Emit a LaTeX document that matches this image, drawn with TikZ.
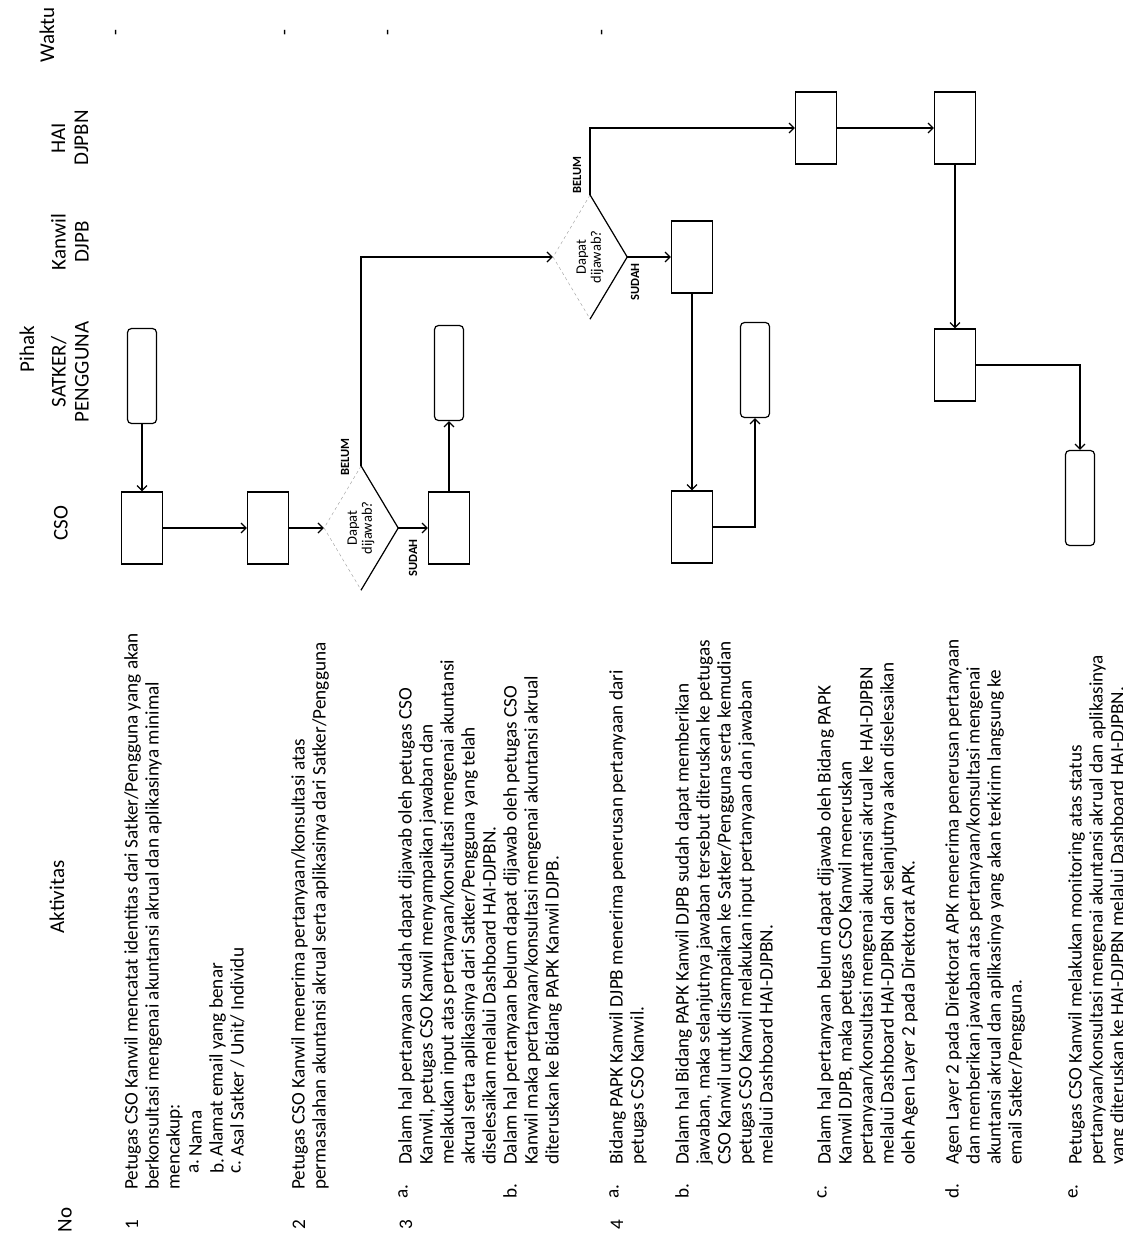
\documentclass[tikz,border=0pt]{standalone}
\usepackage{fontspec}
\setmainfont{Carlito}
\usetikzlibrary{arrows.meta, shapes.geometric, positioning}

\begin{document}
\begin{tikzpicture}[x=1pt, y=-1pt,
  hdr/.style={rotate=90, align=center, inner sep=0pt, font=\fontsize{21}{23}\selectfont},
  txt/.style={rotate=90, anchor=north west, align=left, inner sep=0pt, font=\fontsize{19.2}{21}\selectfont},
  proc/.style={draw, line width=1.2pt, minimum width=41pt, minimum height=72pt, inner sep=0pt},
  term/.style={draw, line width=1.2pt, rounded corners=4pt, minimum width=29pt, minimum height=95pt, inner sep=0pt},
  decide/.style={diamond, draw=black!40, dashed, minimum width=74pt, minimum height=124pt, inner sep=0pt},
  arr/.style={line width=1.2pt, -{Straight Barb[length=5pt, width=10pt]}},
  yn/.style={rotate=90, inner sep=0pt, font=\bfseries\fontsize{12.5}{13}\selectfont}
]
\fill[white] (0,0) rectangle (1122,1246);
\useasboundingbox (0,0) rectangle (1122,1246);

% kepala tabel
\node[hdr] (hno)  at (65,1220) {No};
\node[hdr] (hakt) at (57,897)  {Aktivitas};
\node[hdr] (hpih) at (27,349)  {Pihak};
\node[hdr] (hcso) at (61,523)  {CSO};
\node[hdr] (hsat) at (70,372)  {SATKER/\\PENGGUNA};
\node[hdr] (hkan) at (70,242)  {Kanwil\\DJPB};
\node[hdr] (hhai) at (70,138)  {HAI\\DJPBN};
\node[hdr] (hwak) at (47,35)   {Waktu};
\foreach \x [count=\k] in {118,287,390,604}
  \node[txt, anchor=center] (w\k) at (\x,33) {-};

% nomor dan huruf
\foreach \x/\n in {132/1, 299/2, 406/3, 617/4}
  \node[txt, anchor=west] (no\n) at (\x,1230) {\n};
\foreach \x/\l [count=\k] in {197/a., 218/b., 239/c.}
  \node[txt] (la\k) at (\x-8,1174) {\l};
\foreach \x/\l [count=\k] in {406/a., 511/b., 617/a., 683/b., 825/c., 953/d., 1076/e.}
  \node[txt] (lb\k) at (\x-8,1199) {\l};

% aktivitas
\foreach \x/\y/\t [count=\k] in {
  132/1190/{Petugas CSO Kanwil mencatat identitas dari Satker/Pengguna yang akan\\berkonsultasi mengenai akuntansi akrual dan aplikasinya minimal\\mencakup:},
  197/1157/{Nama\\Alamat email yang benar\\Asal Satker / Unit/ Individu},
  299/1190/{Petugas CSO Kanwil menerima pertanyaan/konsultasi atas\\permasalahan akuntansi akrual serta aplikasinya dari Satker/Pengguna},
  406/1165/{Dalam hal pertanyaan sudah dapat dijawab oleh petugas CSO\\Kanwil, petugas CSO Kanwil menyampaikan jawaban dan\\melakukan input atas pertanyaan/konsultasi mengenai akuntansi\\akrual serta aplikasinya dari Satker/Pengguna yang telah\\diselesaikan melalui Dashboard HAI-DJPBN.},
  511/1165/{Dalam hal pertanyaan belum dapat dijawab oleh petugas CSO\\Kanwil maka pertanyaan/konsultasi mengenai akuntansi akrual\\diteruskan ke Bidang PAPK Kanwil DJPB.},
  617/1165/{Bidang PAPK Kanwil DJPB menerima penerusan pertanyaan dari\\petugas CSO Kanwil.},
  683/1165/{Dalam hal Bidang PAPK Kanwil DJPB sudah dapat memberikan\\jawaban, maka selanjutnya jawaban tersebut diteruskan ke petugas\\CSO Kanwil untuk disampaikan ke Satker/Pengguna serta kemudian\\petugas CSO Kanwil melakukan input pertanyaan dan jawaban\\melalui Dashboard HAI-DJPBN.},
  825/1165/{Dalam hal pertanyaan belum dapat dijawab oleh Bidang PAPK\\Kanwil DJPB, maka petugas CSO Kanwil meneruskan\\pertanyaan/konsultasi mengenai akuntansi akrual ke HAI-DJPBN\\melalui Dashboard HAI-DJPBN dan selanjutnya akan diselesaikan\\oleh Agen Layer 2 pada Direktorat APK.},
  953/1165/{Agen Layer 2 pada Direktorat APK menerima penerusan pertanyaan\\dan memberikan jawaban atas pertanyaan/konsultasi mengenai\\akuntansi akrual dan aplikasinya yang akan terkirim langsung ke\\email Satker/Pengguna.},
  1076/1165/{Petugas CSO Kanwil melakukan monitoring atas status\\pertanyaan/konsultasi mengenai akuntansi akrual dan aplikasinya\\yang diteruskan ke HAI-DJPBN melalui Dashboard HAI-DJPBN.}%
}
  \node[txt] (p\k) at (\x-8,\y) {\t};

% bagan alir
\node[term]   (sat)  at (142,376) {};
\node[proc]   (cso1) at (142,528) {};
\node[proc]   (cso2) at (268,528) {};
\node[decide] (cek1) at (361,528) {};
\node[proc]   (jwb1) at (449,528) {};
\node[term]   (sat1) at (449,373) {};
\node[decide] (cek2) at (590,257) {};
\node[proc]   (papk) at (692,257) {};
\node[proc]   (cso3) at (692,527) {};
\node[term]   (sat2) at (755,370) {};
\node[proc]   (hai1) at (816,128) {};
\node[proc]   (hai2) at (955,128) {};
\node[proc]   (hai3) at (955,365) {};
\node[term]   (cso4) at (1080,498) {};

\foreach \d in {cek1,cek2}{
  \draw[line width=1.2pt] (\d.north) -- (\d.east) -- (\d.south);
  \node[rotate=90, align=center, inner sep=0pt, font=\fontsize{14.5}{15}\selectfont] (t\d) at (\d) {Dapat\\dijawab?};
}

\draw[arr] (sat) -- (cso1);
\draw[arr] (cso1) -- (cso2);
\draw[arr] (cso2) -- (cek1);
\draw[arr] (cek1.north) |- (cek2.west);
\draw[arr] (cek1.east) -- (jwb1.west);
\draw[arr] (jwb1) -- (sat1);
\draw[arr] (cek2.east) -- (papk.west);
\draw[arr] (cek2.north) |- (hai1.west);
\draw[arr] (hai1) -- (hai2);
\draw[arr] (papk) -- (cso3);
\draw[arr] (cso3.east) -| (sat2.south);
\draw[arr] (hai2) -- (hai3);
\draw[arr] (hai3.east) -| (cso4.north);

\node[yn] (b1) at (345,457) {BELUM};
\node[yn] (s1) at (413,558) {SUDAH};
\node[yn] (b2) at (577,175) {BELUM};
\node[yn] (s2) at (635,282) {SUDAH};
\end{tikzpicture}
\end{document}
